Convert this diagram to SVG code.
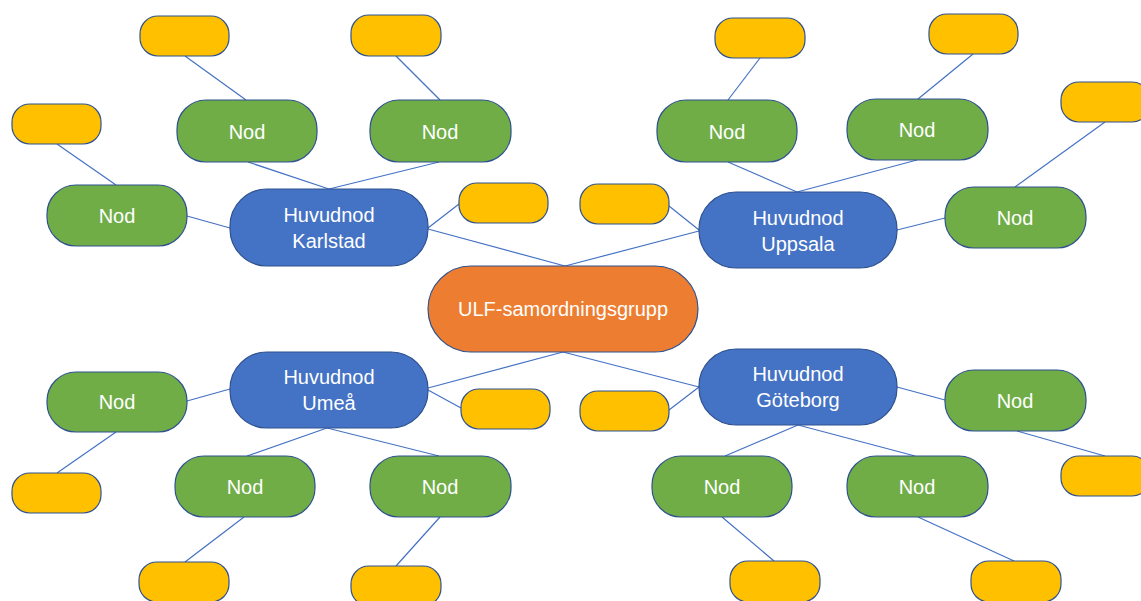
<svg xmlns="http://www.w3.org/2000/svg" width="1141" height="601" viewBox="0 0 1141 601">
  <style>
    .edge { stroke: #4472C4; stroke-width: 1.2; fill: none; }
    .box { stroke: #2F528F; stroke-width: 1.2; }
    .core { fill: #ED7D31; }
    .hub { fill: #4472C4; }
    .leaf { fill: #70AD47; }
    .tag { fill: #FFC000; }
    text { font-family: "Liberation Sans", Arial, sans-serif; font-size: 20px; fill: #FFFFFF; text-anchor: middle; }
  </style>
  <rect width="1141" height="601" fill="#FFFFFF"/>

  <!-- connectors -->
  <g id="connectors">
    <!-- Karlstad branch -->
    <line class="edge" x1="185" y1="56" x2="246" y2="100"/>
    <line class="edge" x1="396" y1="56" x2="440" y2="100"/>
    <line class="edge" x1="57" y1="144" x2="116" y2="185"/>
    <line class="edge" x1="248" y1="162" x2="329" y2="189"/>
    <line class="edge" x1="439" y1="162" x2="329" y2="189"/>
    <line class="edge" x1="187" y1="216" x2="230" y2="228"/>
    <line class="edge" x1="428" y1="228" x2="459" y2="204"/>
    <line class="edge" x1="428" y1="229" x2="565" y2="266"/>
    <!-- Uppsala branch -->
    <line class="edge" x1="760" y1="58" x2="728" y2="100"/>
    <line class="edge" x1="973" y1="54" x2="918" y2="99"/>
    <line class="edge" x1="1105" y1="122" x2="1015" y2="187"/>
    <line class="edge" x1="728" y1="162" x2="797" y2="192"/>
    <line class="edge" x1="917" y1="160" x2="797" y2="192"/>
    <line class="edge" x1="669" y1="206" x2="699" y2="230"/>
    <line class="edge" x1="565" y1="266" x2="699" y2="231"/>
    <line class="edge" x1="897" y1="230" x2="945" y2="218"/>
    <!-- Umeå branch -->
    <line class="edge" x1="563" y1="352" x2="428" y2="388"/>
    <line class="edge" x1="428" y1="390" x2="461" y2="408"/>
    <line class="edge" x1="230" y1="389" x2="187" y2="401"/>
    <line class="edge" x1="116" y1="432" x2="57" y2="473"/>
    <line class="edge" x1="327" y1="428" x2="247" y2="456"/>
    <line class="edge" x1="327" y1="428" x2="439" y2="456"/>
    <line class="edge" x1="244" y1="517" x2="185" y2="562"/>
    <line class="edge" x1="440" y1="517" x2="396" y2="566"/>
    <!-- Göteborg branch -->
    <line class="edge" x1="563" y1="352" x2="699" y2="387"/>
    <line class="edge" x1="699" y1="387" x2="669" y2="410"/>
    <line class="edge" x1="897" y1="387" x2="945" y2="400"/>
    <line class="edge" x1="798" y1="425" x2="725" y2="456"/>
    <line class="edge" x1="798" y1="425" x2="915" y2="456"/>
    <line class="edge" x1="722" y1="517" x2="774" y2="561"/>
    <line class="edge" x1="918" y1="517" x2="1014" y2="561"/>
    <line class="edge" x1="1017" y1="431" x2="1105" y2="456"/>
  </g>

  <!-- central group -->
  <g id="ulf">
    <rect class="box core" x="428" y="266" width="270" height="86" rx="43"/>
    <text x="563" y="316">ULF-samordningsgrupp</text>
  </g>

  <!-- main nodes -->
  <g id="karlstad">
    <rect class="box hub" x="230" y="189" width="198" height="77" rx="37"/>
    <text x="329" y="222">Huvudnod</text>
    <text x="329" y="248">Karlstad</text>
  </g>
  <g id="uppsala">
    <rect class="box hub" x="699" y="192" width="198" height="76" rx="37"/>
    <text x="798" y="225">Huvudnod</text>
    <text x="798" y="251">Uppsala</text>
  </g>
  <g id="umea">
    <rect class="box hub" x="230" y="352" width="198" height="76" rx="37"/>
    <text x="329" y="384">Huvudnod</text>
    <text x="329" y="410">Umeå</text>
  </g>
  <g id="goteborg">
    <rect class="box hub" x="699" y="349" width="198" height="76" rx="37"/>
    <text x="798" y="381">Huvudnod</text>
    <text x="798" y="407">Göteborg</text>
  </g>

  <!-- Karlstad sub-nodes -->
  <g id="k-nod1"><rect class="box leaf" x="177" y="100" width="140" height="62" rx="29"/><text x="247" y="139">Nod</text></g>
  <g id="k-nod2"><rect class="box leaf" x="370" y="100" width="141" height="62" rx="29"/><text x="440" y="139">Nod</text></g>
  <g id="k-nod3"><rect class="box leaf" x="47" y="185" width="140" height="61" rx="29"/><text x="117" y="223">Nod</text></g>
  <g id="k-tag1"><rect class="box tag" x="140" y="16" width="89" height="40" rx="18"/></g>
  <g id="k-tag2"><rect class="box tag" x="351" y="15" width="90" height="41" rx="18"/></g>
  <g id="k-tag3"><rect class="box tag" x="12" y="104" width="89" height="40" rx="18"/></g>
  <g id="k-tag4"><rect class="box tag" x="459" y="183" width="89" height="40" rx="18"/></g>

  <!-- Uppsala sub-nodes -->
  <g id="u-nod1"><rect class="box leaf" x="657" y="100" width="140" height="62" rx="29"/><text x="727" y="139">Nod</text></g>
  <g id="u-nod2"><rect class="box leaf" x="847" y="99" width="141" height="61" rx="29"/><text x="917" y="137">Nod</text></g>
  <g id="u-nod3"><rect class="box leaf" x="945" y="187" width="141" height="61" rx="29"/><text x="1015" y="225">Nod</text></g>
  <g id="u-tag1"><rect class="box tag" x="715" y="18" width="90" height="40" rx="18"/></g>
  <g id="u-tag2"><rect class="box tag" x="929" y="14" width="89" height="40" rx="18"/></g>
  <g id="u-tag3"><rect class="box tag" x="1061" y="82" width="89" height="40" rx="18"/></g>
  <g id="u-tag4"><rect class="box tag" x="580" y="184" width="89" height="40" rx="18"/></g>

  <!-- Umeå sub-nodes -->
  <g id="m-nod1"><rect class="box leaf" x="47" y="372" width="140" height="60" rx="29"/><text x="117" y="409">Nod</text></g>
  <g id="m-nod2"><rect class="box leaf" x="175" y="456" width="140" height="61" rx="29"/><text x="245" y="494">Nod</text></g>
  <g id="m-nod3"><rect class="box leaf" x="370" y="456" width="141" height="61" rx="29"/><text x="440" y="494">Nod</text></g>
  <g id="m-tag1"><rect class="box tag" x="12" y="473" width="89" height="40" rx="18"/></g>
  <g id="m-tag2"><rect class="box tag" x="139" y="562" width="90" height="40" rx="18"/></g>
  <g id="m-tag3"><rect class="box tag" x="351" y="566" width="90" height="40" rx="18"/></g>
  <g id="m-tag4"><rect class="box tag" x="461" y="389" width="89" height="40" rx="18"/></g>

  <!-- Göteborg sub-nodes -->
  <g id="g-nod1"><rect class="box leaf" x="945" y="370" width="141" height="61" rx="29"/><text x="1015" y="408">Nod</text></g>
  <g id="g-nod2"><rect class="box leaf" x="652" y="456" width="140" height="61" rx="29"/><text x="722" y="494">Nod</text></g>
  <g id="g-nod3"><rect class="box leaf" x="847" y="456" width="141" height="61" rx="29"/><text x="917" y="494">Nod</text></g>
  <g id="g-tag1"><rect class="box tag" x="580" y="391" width="89" height="40" rx="18"/></g>
  <g id="g-tag2"><rect class="box tag" x="1061" y="456" width="89" height="40" rx="18"/></g>
  <g id="g-tag3"><rect class="box tag" x="730" y="561" width="90" height="41" rx="18"/></g>
  <g id="g-tag4"><rect class="box tag" x="971" y="561" width="90" height="41" rx="18"/></g>
</svg>
